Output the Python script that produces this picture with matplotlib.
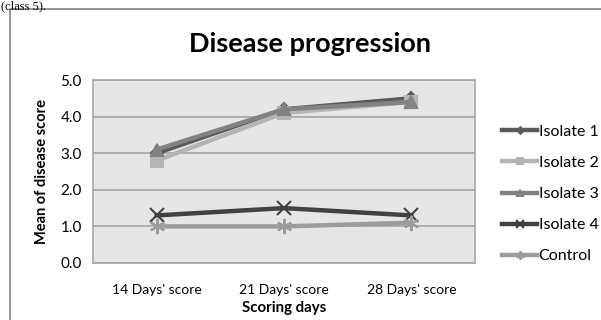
import matplotlib
matplotlib.use("Agg")
import matplotlib.pyplot as plt
from matplotlib.patches import Rectangle

plt.rcParams['font.family'] = ['Lato', 'DejaVu Sans']

# data
days = ["14 Days' score", "21 Days' score", "28 Days' score"]
isolate_1 = [3.0, 4.2, 4.5]
isolate_2 = [2.8, 4.1, 4.4]
isolate_3 = [3.1, 4.2, 4.4]
isolate_4 = [1.3, 1.5, 1.3]
control = [1.0, 1.0, 1.1]
y_ticks = [0.0, 1.0, 2.0, 3.0, 4.0, 5.0]

series = [
    ("Isolate 1", isolate_1, "#5a5a5a", "D", 6),
    ("Isolate 2", isolate_2, "#b4b4b4", "s", 8),
    ("Isolate 3", isolate_3, "#828282", "^", 9),
    ("Isolate 4", isolate_4, "#414141", "x", 10),
    ("Control", control, "#9c9c9c", (6, 2, 0), 11),
]

fig = plt.figure(figsize=(6.01, 3.2), dpi=100)

# outer chart frame (cut off at right and bottom like the source)
fig.patches.append(Rectangle((10 / 601, -0.1), 1.0, 1 - 9 / 320 + 0.1,
                             transform=fig.transFigure, fill=False,
                             edgecolor="#858585", linewidth=1.2))
# remains of the text line above the chart
fig.text(0.002, 0.999, "(class 5).", family="Liberation Serif",
         fontsize=9, va="top", ha="left")

ax = fig.add_axes([93 / 601, 1 - 263 / 320, (475 - 93) / 601, (263 - 80) / 320])
ax.set_facecolor("#e6e6e6")
x = range(len(days))
for name, vals, color, marker, ms in series:
    ax.plot(x, vals, color=color, linewidth=3.2, marker=marker,
            markersize=ms, markeredgewidth=1.5, markerfacecolor=color,
            markeredgecolor=color, label=name)

ax.set_xlim(-0.5, len(days) - 0.5)
ax.set_ylim(0, 5)
ax.set_yticks(y_ticks)
ax.set_yticklabels(["{:.1f}".format(v) for v in y_ticks], fontsize=11)
ax.set_xticks(list(x))
ax.set_xticklabels(days, fontsize=10)
ax.tick_params(length=0, pad=8)
ax.tick_params(axis='x', pad=15)
ax.grid(axis='y', color="#a6a6a6", linewidth=1.2)
ax.set_axisbelow(True)
for side in ["top", "right", "bottom", "left"]:
    ax.spines[side].set_color("#a6a6a6")
    ax.spines[side].set_linewidth(1.2)

ax.set_xlabel("Scoring days", fontsize=10.8, fontweight="bold", labelpad=4)
ax.set_ylabel("Mean of disease score", fontsize=10.5, fontweight="bold", labelpad=8)

fig.text(310 / 601, 1 - 44 / 320, "Disease progression", fontsize=19.5,
         fontweight="bold", ha="center", va="center")

ax.legend(loc="center left", bbox_to_anchor=(502 / 601, 1 - 194 / 320),
          bbox_transform=fig.transFigure, frameon=False, fontsize=11.5,
          handlelength=2.2, handletextpad=0.1, labelspacing=1.06,
          markerscale=0.55, borderaxespad=0, borderpad=0)

fig.savefig("out.png", dpi=100)
